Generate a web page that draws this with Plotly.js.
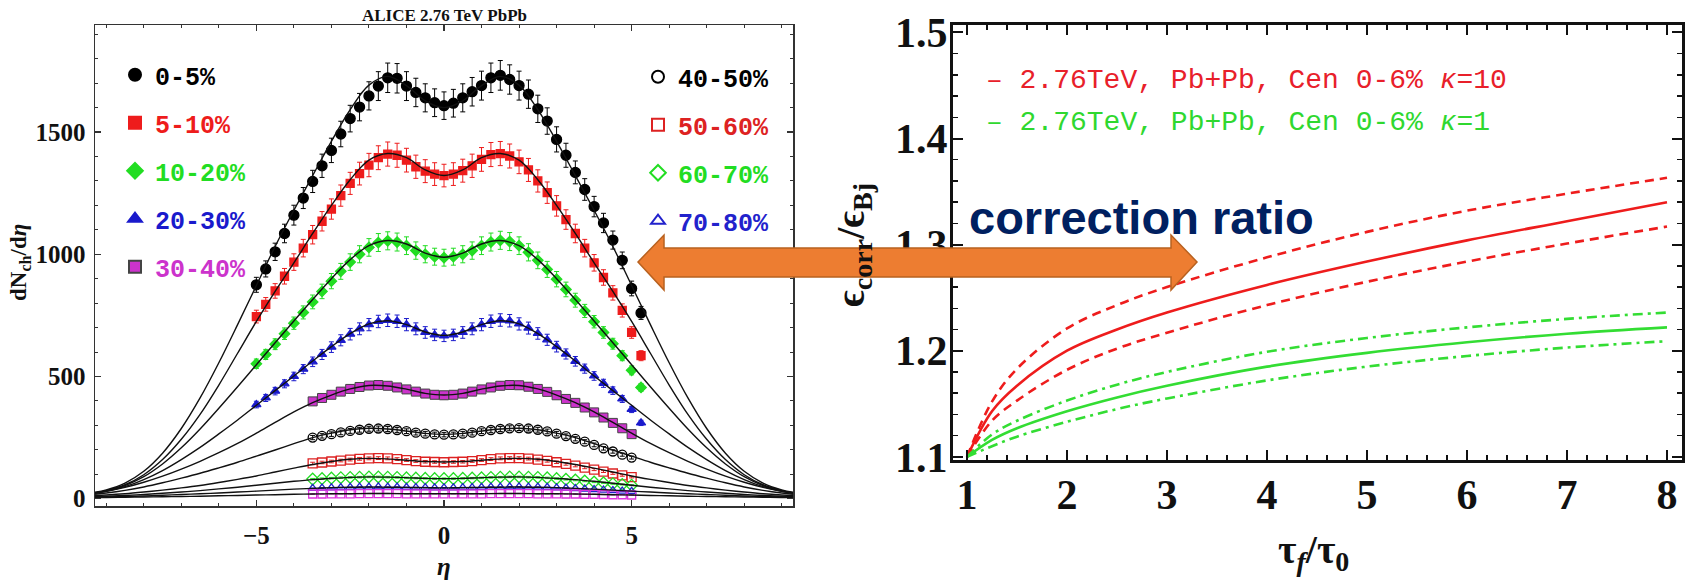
<!DOCTYPE html>
<html><head><meta charset="utf-8">
<script src="https://cdn.plot.ly/plotly-3.0.1.min.js"></script>
<style>html,body{margin:0;padding:0;background:#fff}#chart{width:1692px;height:584px}</style>
</head><body><div id="chart"></div>
<script>
// ---------- Left panel: ALICE 2.76 TeV PbPb dNch/deta ----------
const etaCentral = [-5,-4.75,-4.5,-4.25,-4,-3.75,-3.5,-3.25,-3,-2.75,-2.5,-2.25,-2,-1.75,-1.5,-1.25,-1,-0.75,-0.5,-0.25,0,0.25,0.5,0.75,1,1.25,1.5,1.75,2,2.25,2.5,2.75,3,3.25,3.5,3.75,4,4.25,4.5,4.75,5,5.25];
const etaPeripheral = [-3.5,-3.25,-3,-2.75,-2.5,-2.25,-2,-1.75,-1.5,-1.25,-1,-0.75,-0.5,-0.25,0,0.25,0.5,0.75,1,1.25,1.5,1.75,2,2.25,2.5,2.75,3,3.25,3.5,3.75,4,4.25,4.5,4.75,5];
const etaCurve = [-9.3,-9,-8.5,-8,-7.5,-7,-6.5,-6,-5.5,-5,-4.5,-4,-3.5,-3,-2.5,-2,-1.5,-1,-0.5,0,0.5,1,1.5,2,2.5,3,3.5,4,4.5,5,5.5,6,6.5,7,7.5,8,8.5,9,9.3];

const classNames = ['0-5%','5-10%','10-20%','20-30%','30-40%','40-50%','50-60%','60-70%','70-80%','80-90%'];

const data0_5   = [875,940,1010,1085,1160,1230,1298,1362,1425,1492,1555,1602,1648,1688,1722,1720,1688,1662,1640,1620,1608,1618,1640,1665,1690,1722,1732,1715,1690,1655,1595,1545,1470,1405,1335,1265,1195,1128,1058,975,860,760];
const data5_10  = [745,795,850,910,968,1025,1080,1135,1185,1240,1290,1330,1365,1395,1410,1405,1385,1358,1340,1328,1322,1328,1342,1362,1388,1408,1412,1402,1378,1345,1300,1252,1198,1142,1085,1025,965,905,842,770,680,585];
const data10_20 = [552,590,632,675,718,762,805,848,890,930,968,1000,1028,1048,1055,1050,1035,1015,1000,990,986,990,1000,1015,1035,1050,1057,1052,1035,1008,975,938,898,856,812,768,724,680,634,585,525,455];
const data20_30 = [385,412,440,470,500,530,560,590,620,648,673,695,712,725,730,726,712,695,680,670,666,670,680,695,712,726,731,728,715,698,676,650,622,592,562,532,502,472,442,408,365,310];
const data30_40 = [398,412,425,438,449,457,463,465,462,455,447,438,430,425,423,425,430,438,447,455,462,465,464,458,449,437,423,408,392,373,353,332,310,288,264];
const data40_50 = [250,257,264,271,277,282,286,287,285,281,276,270,266,263,262,263,266,270,276,281,285,288,289,287,282,275,266,256,245,233,220,206,193,180,168];
const data50_60 = [144,148,152,156,160,163,165,166,165,162,158,154,151,150,149,150,151,154,158,162,165,166,166,164,160,155,149,142,135,127,119,111,103,95,88];
const data60_70 = [80,82,84,86,87,88,89,89,88,87,85,84,83,82,82,82,83,84,85,87,88,89,89,88,87,85,82,79,76,72,68,65,61,58,55];
const data70_80 = [42,43,44,45,46,47,47,48,47,47,46,45,45,44,44,44,45,45,46,47,47,48,48,47,47,46,44,43,41,39,37,35,33,31,30];
const data80_90 = [19,19,20,20,20,21,21,21,21,21,20,20,20,20,20,20,20,20,20,21,21,21,21,21,20,20,20,19,19,18,18,17,16,16,15];

const fit0_5   = [26,36,64,112,186,287,412,556,712,872,1032,1180,1322,1462,1592,1692,1728,1690,1628,1600,1628,1690,1728,1692,1592,1462,1322,1180,1032,872,712,556,412,287,186,112,64,36,26];
const fit5_10  = [24,33,57,98,160,243,345,465,595,725,848,965,1085,1200,1305,1385,1412,1395,1345,1322,1345,1395,1412,1385,1305,1200,1085,965,848,725,595,465,345,243,160,98,57,33,24];
const fit10_20 = [23,32,54,90,142,208,285,370,458,548,638,727,815,900,978,1035,1056,1042,1005,988,1005,1042,1056,1035,978,900,815,727,638,548,458,370,285,208,142,90,54,32,23];
const fit20_30 = [22,30,49,78,115,160,210,265,322,382,442,502,563,622,675,715,728,712,682,668,682,712,728,715,675,622,563,502,442,382,322,265,210,160,115,78,49,30,22];
const fit30_40 = [23,30,46,67,92,121,153,188,226,268,312,355,393,424,449,463,461,448,431,424,431,448,461,463,449,424,393,355,312,268,226,188,153,121,92,67,46,30,23];
const fit40_50 = [18,23,34,48,65,84,104,126,149,174,199,225,250,268,282,288,285,277,267,263,267,277,285,288,282,268,250,225,199,174,149,126,104,84,65,48,34,23,18];
const fit50_60 = [13,15,20,27,35,44,54,66,79,93,109,125,140,152,161,165,163,157,152,150,152,157,163,165,161,152,140,125,109,93,79,66,54,44,35,27,20,15,13];
const fit60_70 = [9,10,13,17,22,27,33,40,47,55,63,71,78,83,87,89,88,86,83,82,83,86,88,89,87,83,78,71,63,55,47,40,33,27,22,17,13,10,9];
const fit70_80 = [6,7,9,11,14,17,20,23,27,31,35,39,42,45,47,48,47,46,45,44,45,46,47,48,47,45,42,39,35,31,27,23,20,17,14,11,9,7,6];
const fit80_90 = [5,5,6,7,8,9,10,12,13,15,16,18,19,20,20,21,21,20,20,20,20,20,21,21,20,20,19,18,16,15,13,12,10,9,8,7,6,5,5];

// ---------- Right panel: correction ratio ----------
const tauRatio = [1,1.25,1.5,2,2.5,3,4,5,6,7,8];
const red10Mid   = [1.100,1.143,1.167,1.200,1.220,1.236,1.262,1.284,1.304,1.322,1.340];
const red10Up    = [1.100,1.152,1.183,1.221,1.243,1.260,1.288,1.312,1.332,1.348,1.363];
const red10Low   = [1.100,1.134,1.153,1.182,1.202,1.217,1.243,1.265,1.284,1.301,1.317];
const green1Mid  = [1.100,1.116,1.127,1.143,1.156,1.167,1.185,1.198,1.208,1.216,1.222];
const green1Up   = [1.100,1.121,1.134,1.153,1.168,1.180,1.199,1.212,1.222,1.230,1.236];
const green1Low  = [1.100,1.110,1.119,1.133,1.145,1.155,1.172,1.185,1.195,1.203,1.209];

const leftTickVals = [0,500,1000,1500];
const rightLegendText = ['– 2.76TeV, Pb+Pb, Cen 0-6% <i>κ</i>=10','– 2.76TeV, Pb+Pb, Cen 0-6% <i>κ</i>=1'];

// ---------- helpers (layout only) ----------
const W = 1692, H = 584;
const px = v => v / W;
const py = v => 1 - v / H;

const RED = '#ee1c1c', GREEN = '#22dd22', BLUE = '#1a1acc', MAG = '#cc33cc';
const styles = [
  {sym:'circle', color:'#000', fill:'#000', size:10, leg:'legend'},
  {sym:'square', color:RED, fill:RED, size:8, leg:'legend'},
  {sym:'diamond', color:GREEN, fill:GREEN, size:8, leg:'legend'},
  {sym:'triangle-up', color:BLUE, fill:BLUE, size:8, leg:'legend'},
  {sym:'square', color:MAG, fill:MAG, size:9, leg:'legend', edge:'#444'},
  {sym:'circle-open', color:'#000', size:9, leg:'legend2'},
  {sym:'square-open', color:'#dd2222', size:9, leg:'legend2'},
  {sym:'diamond-open', color:GREEN, size:9, leg:'legend2'},
  {sym:'triangle-up-open', color:'#2222cc', size:8, leg:'legend2'},
  {sym:'square-open', color:'#dd33dd', size:8, leg:null}
];
const dataSets = [data0_5,data5_10,data10_20,data20_30,data30_40,data40_50,data50_60,data60_70,data70_80,data80_90];
const fitSets = [fit0_5,fit5_10,fit10_20,fit20_30,fit30_40,fit40_50,fit50_60,fit60_70,fit70_80,fit80_90];

const traces = [];
dataSets.forEach((ys, i) => {
  const s = styles[i];
  traces.push({
    type:'scatter', mode:'markers', xaxis:'x', yaxis:'y',
    x: i < 4 ? etaCentral : etaPeripheral, y: ys,
    name: '<span style="color:' + s.color + '">' + classNames[i] + '</span>',
    legend: s.leg || 'legend', legendgroup: 'g' + i, showlegend: !!s.leg,
    marker: {symbol: s.sym, size: s.size, color: s.fill || s.color,
             line: {color: s.edge || s.color, width: s.edge ? 1 : 1.3}},
    error_y: {type:'percent', value: 3.5, color: s.color, thickness: 1, width: 2.5}
  });
});
fitSets.forEach((ys) => {
  traces.push({type:'scatter', mode:'lines', xaxis:'x', yaxis:'y', x: etaCurve, y: ys,
    line:{color:'#111', width:1.4, shape:'spline', smoothing:1}, showlegend:false, hoverinfo:'skip'});
});
const rightLines = [
  [red10Up, RED, 'dash'], [red10Mid, RED, 'solid'], [red10Low, RED, 'dash'],
  [green1Up, '#33dd33', 'dashdot'], [green1Mid, '#33dd33', 'solid'], [green1Low, '#33dd33', 'dashdot']
];
rightLines.forEach(([ys, c, d]) => {
  traces.push({type:'scatter', mode:'lines', xaxis:'x2', yaxis:'y2', x: tauRatio, y: ys,
    line:{color:c, width:2.6, dash: d === 'dash' ? '9px,6px' : (d === 'dashdot' ? '10px,5px,3px,5px' : 'solid'), shape:'spline'},
    showlegend:false});
});

const serif = {family:'Liberation Serif, Times New Roman, serif', color:'#111', weight:'bold'};
const leftAxisCommon = {
  showline:true, linecolor:'#333', linewidth:1.5, mirror:'ticks', ticks:'inside', ticklen:6, tickwidth:1.2, tickcolor:'#333',
  showgrid:false, zeroline:false, tickfont:Object.assign({size:25}, serif)
};
const rightAxisCommon = {
  showline:true, linecolor:'#111', linewidth:3, mirror:'ticks', ticks:'inside', ticklen:10, tickwidth:2, tickcolor:'#111',
  showgrid:false, zeroline:false, tickfont:Object.assign({size:42}, serif)
};
const mono = 'Liberation Mono, Courier New, monospace';

const layout = {
  width: W, height: H, margin:{l:0,r:0,t:0,b:0}, paper_bgcolor:'#fff', plot_bgcolor:'rgba(0,0,0,0)',
  showlegend:true,
  xaxis: Object.assign({}, leftAxisCommon, {domain:[px(95), px(793)], range:[-9.3,9.3], anchor:'y', tick0:0, dtick:5,
    ticklabelstandoff:6, minor:{dtick:1, ticks:'inside', ticklen:3, tickwidth:1, tickcolor:'#333'}}),
  yaxis: Object.assign({}, leftAxisCommon, {domain:[py(506), py(25)], range:[-30,1938], anchor:'x', tickvals:leftTickVals,
    ticklabelstandoff:3, minor:{dtick:100, ticks:'inside', ticklen:3, tickwidth:1, tickcolor:'#333'}}),
  xaxis2: Object.assign({}, rightAxisCommon, {domain:[px(953), px(1682)], range:[0.86,8.15], anchor:'y2', tick0:1, dtick:1,
    ticklabelstandoff:-4, minor:{dtick:0.2, ticks:'inside', ticklen:5, tickwidth:1.5, tickcolor:'#111'}}),
  yaxis2: Object.assign({}, rightAxisCommon, {domain:[py(460), py(25)], range:[1.097,1.507], anchor:'x2', tick0:1.1, dtick:0.1,
    tickformat:'.1f', ticklabelstandoff:-6, minor:{dtick:0.02, ticks:'inside', ticklen:5, tickwidth:1.5, tickcolor:'#111'}}),
  legend: {x:px(115), xanchor:'left', y:py(52), yanchor:'top', bgcolor:'rgba(0,0,0,0)', borderwidth:0,
    font:{family:mono, size:25, weight:'bold', color:'#000'},
    tracegroupgap:12.5, itemsizing:'constant', traceorder:'grouped'},
  legend2: {x:px(638), xanchor:'left', y:py(54), yanchor:'top', bgcolor:'rgba(0,0,0,0)', borderwidth:0,
    font:{family:mono, size:25, weight:'bold', color:'#000'},
    tracegroupgap:12.5, itemsizing:'constant', traceorder:'grouped'},
  shapes: [{
    type:'path', xref:'paper', yref:'paper', layer:'above',
    path: 'M' + px(638) + ',' + py(262) + ' L' + px(664) + ',' + py(235) + ' L' + px(664) + ',' + py(248) +
          ' L' + px(1171) + ',' + py(248) + ' L' + px(1171) + ',' + py(235) + ' L' + px(1197) + ',' + py(262) +
          ' L' + px(1171) + ',' + py(290) + ' L' + px(1171) + ',' + py(277) + ' L' + px(664) + ',' + py(277) +
          ' L' + px(664) + ',' + py(290) + ' Z',
    fillcolor:'#ED7D31', line:{color:'#B8611F', width:1.5}
  }],
  annotations: [
    {text:'ALICE 2.76 TeV PbPb', x:px(444), y:py(15), font:Object.assign({size:17}, serif)},
    {text:'dN<sub>ch</sub>/d<i>η</i>', x:px(20), y:py(263), textangle:-90, font:Object.assign({size:23}, serif)},
    {text:'<i>η</i>', x:px(444), y:py(566), font:Object.assign({size:25}, serif)},
    {text:'ϵ<sub>corr</sub>/ϵ<sub>Bj</sub>', x:px(853), y:py(245), textangle:-90, font:Object.assign({size:40}, serif)},
    {text:'τ<sub><i>f</i></sub>/τ<sub>0</sub>', x:px(1313), y:py(552), font:Object.assign({size:40}, serif)},
    {text:rightLegendText[0], x:px(984), y:py(80), xanchor:'left',
     font:{family:mono, size:28, color:'#e8202a'}},
    {text:rightLegendText[1], x:px(984), y:py(122), xanchor:'left',
     font:{family:mono, size:28, color:'#2fd82f'}},
    {text:'correction ratio', x:px(1141), y:py(217),
     font:{family:'Liberation Sans, Arial, sans-serif', size:47, weight:'bold', color:'#002060'}}
  ].map(a => Object.assign({xref:'paper', yref:'paper', showarrow:false, xanchor:'center', yanchor:'middle'}, a))
};

Plotly.newPlot('chart', traces, layout, {displayModeBar:false, staticPlot:true});
</script>
</body></html>
